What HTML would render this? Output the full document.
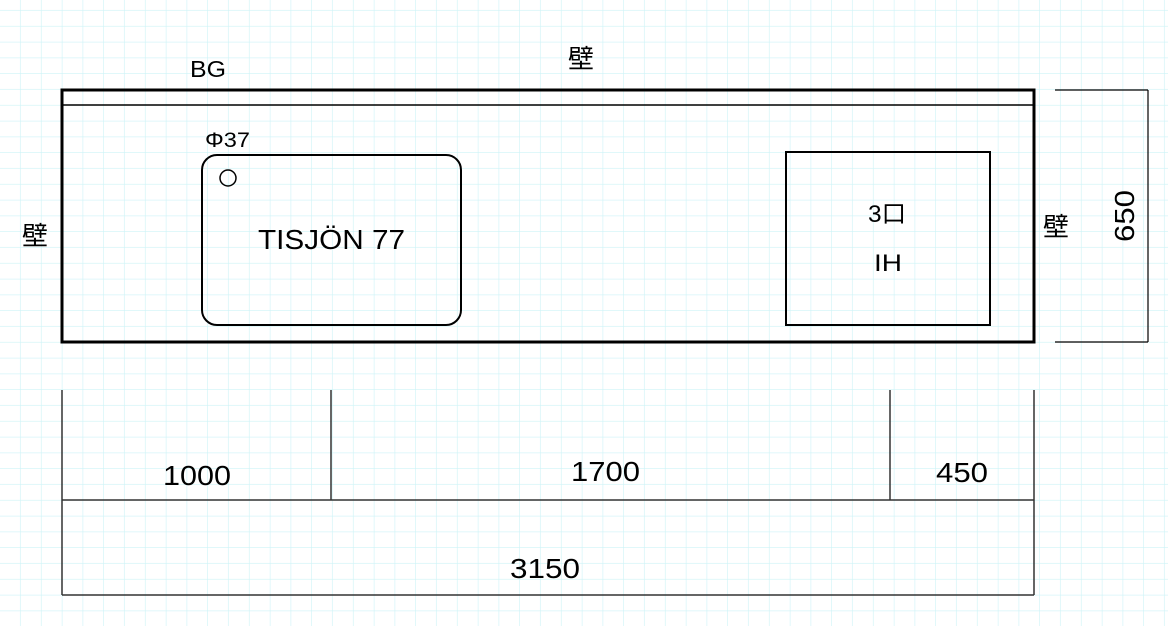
<!DOCTYPE html>
<html><head><meta charset="utf-8"><style>
html,body{margin:0;padding:0;background:#fff;}
svg{display:block;}
text{font-family:"Liberation Sans","Noto Sans CJK JP",sans-serif;fill:#000;}
</style></head><body>
<svg width="1168" height="626" viewBox="0 0 1168 626" xmlns="http://www.w3.org/2000/svg">
<defs>
<pattern id="g" x="0" y="-5" width="20.8" height="15.8" patternUnits="userSpaceOnUse">
<path d="M20.8 0V15.8M0 15.8H20.8" stroke="#cdf3f7" stroke-width="1.2" fill="none"/>
</pattern>
</defs>
<rect width="1168" height="626" fill="#fff"/>
<rect width="1168" height="626" fill="url(#g)"/>
<rect x="62" y="90" width="972" height="252" fill="none" stroke="#000" stroke-width="3"/>
<line x1="62" y1="105" x2="1034" y2="105" stroke="#000" stroke-width="1.5"/>
<rect x="202" y="155" width="259" height="170" rx="15" fill="none" stroke="#000" stroke-width="2"/>
<circle cx="228" cy="178" r="8" fill="none" stroke="#000" stroke-width="1.5"/>
<rect x="786" y="152" width="204" height="173" fill="none" stroke="#000" stroke-width="2"/>
<g stroke="#000" stroke-width="1.2">
<line x1="1055" y1="90" x2="1148" y2="90"/>
<line x1="1055" y1="342" x2="1148" y2="342"/>
<line x1="1148" y1="90" x2="1148" y2="342"/>
</g>
<g stroke="#333" stroke-width="1.5">
<line x1="62" y1="390" x2="62" y2="595"/>
<line x1="331" y1="390" x2="331" y2="500"/>
<line x1="890" y1="390" x2="890" y2="500"/>
<line x1="1034" y1="390" x2="1034" y2="595"/>
<line x1="62" y1="500" x2="1034" y2="500"/>
<line x1="62" y1="595" x2="1034" y2="595"/>
</g>
<text x="190" y="77" font-size="23" textLength="36" lengthAdjust="spacingAndGlyphs">BG</text>
<text x="568" y="68" font-size="26">壁</text>
<text x="22" y="245" font-size="26">壁</text>
<text x="1043" y="236" font-size="26">壁</text>
<text x="205" y="147" font-size="21" textLength="45" lengthAdjust="spacingAndGlyphs">Φ37</text>
<text x="258" y="249" font-size="28" textLength="147" lengthAdjust="spacingAndGlyphs">TISJÖN 77</text>
<text x="868" y="222" font-size="24" textLength="38" lengthAdjust="spacingAndGlyphs">3口</text>
<text x="874" y="271" font-size="24" textLength="28" lengthAdjust="spacingAndGlyphs">IH</text>
<text x="1134" y="216" font-size="28" text-anchor="middle" transform="rotate(-90 1134 216)" textLength="52" lengthAdjust="spacingAndGlyphs">650</text>
<text x="163" y="485" font-size="28" textLength="68" lengthAdjust="spacingAndGlyphs">1000</text>
<text x="571" y="481" font-size="28" textLength="69" lengthAdjust="spacingAndGlyphs">1700</text>
<text x="936" y="482" font-size="28" textLength="52" lengthAdjust="spacingAndGlyphs">450</text>
<text x="510" y="578" font-size="28" textLength="70" lengthAdjust="spacingAndGlyphs">3150</text>
</svg>
</body></html>
